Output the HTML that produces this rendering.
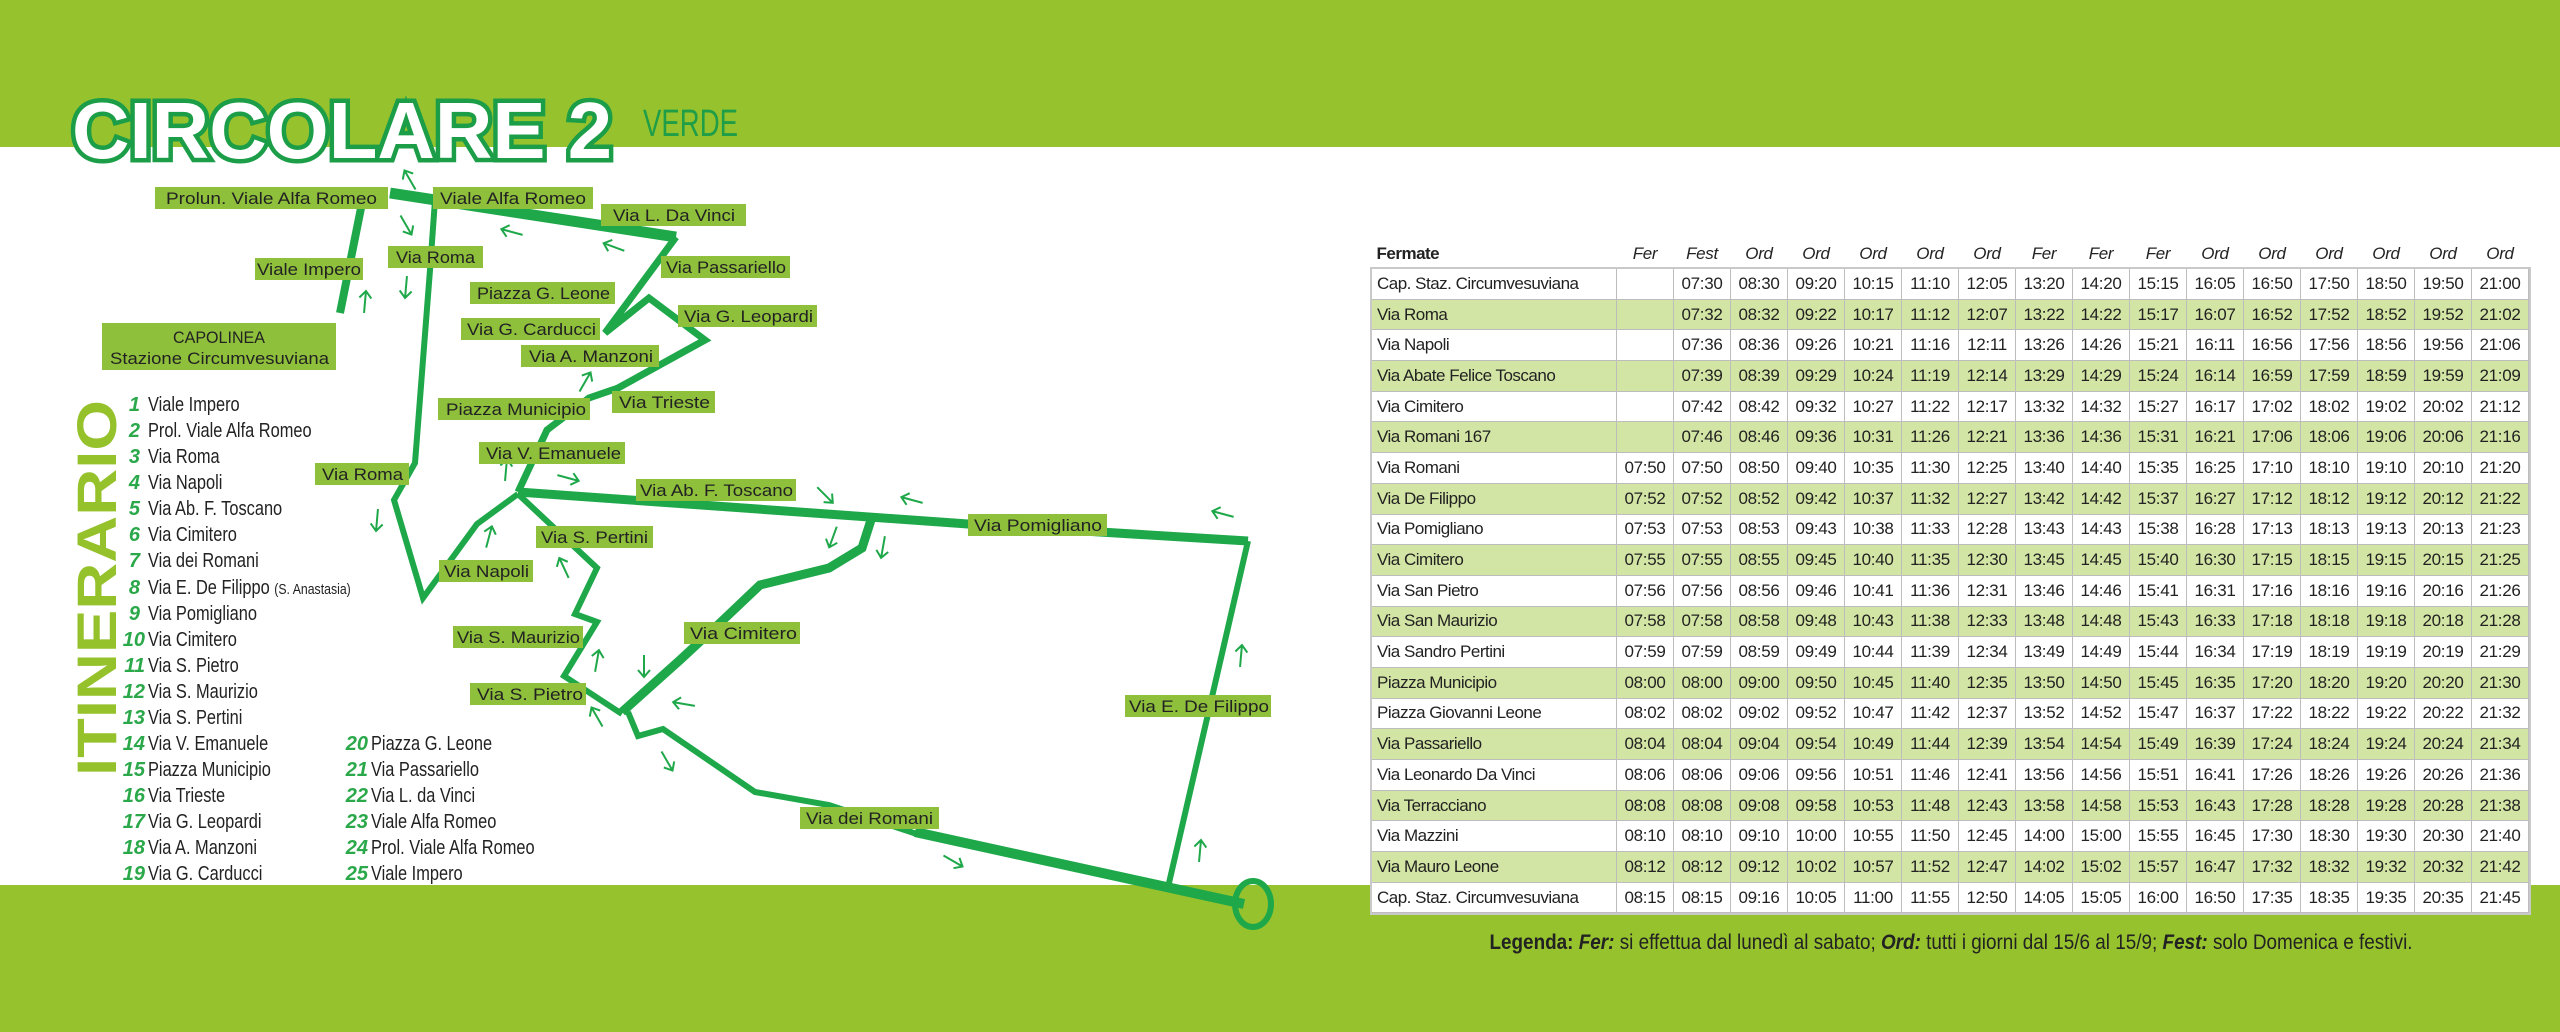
<!DOCTYPE html>
<html><head><meta charset="utf-8"><style>
body{margin:0;width:2560px;height:1032px;position:relative;overflow:hidden;background:#fff;font-family:"Liberation Sans",sans-serif}
svg{position:absolute;left:0;top:0}
table{position:absolute;left:1371px;top:240px;border-collapse:collapse;font-family:"Liberation Sans",sans-serif;font-size:17px;color:#222;table-layout:fixed}
td{border:1px solid #bdbdbd;height:29.7px;padding:0 1px;text-align:center;white-space:nowrap;overflow:hidden;letter-spacing:-0.3px}
td:first-child{text-align:left;padding-left:5px;letter-spacing:-0.5px}
tr.h td{border:none;height:28px;font-style:italic;font-size:17px;vertical-align:middle}
tr.h td:first-child{font-style:normal;font-weight:bold}
tr.g td{background:#d3e5a4}
tbody.b{outline:2px solid #c9c9c9}
.leg{position:absolute;left:1351px;top:931px;width:1200px;text-align:center;font-size:21px;color:#222;white-space:nowrap;transform:scaleX(0.9);transform-origin:center}
</style></head><body>
<svg width="2560" height="1032" viewBox="0 0 2560 1032">
<defs>
<g id="ar"><path d="M-11,0 L11,0 M4,-6 L11,0 L4,6" fill="none" stroke="#1ea84a" stroke-width="2"/></g>
</defs>
<rect x="0" y="0" width="2560" height="147" fill="#96c22e"/>
<rect x="0" y="885" width="2560" height="147" fill="#96c22e"/>
<text x="72" y="158" font-family="Liberation Sans, sans-serif" font-weight="bold" font-size="80" fill="#fff" stroke="#1b9e47" stroke-width="9" paint-order="stroke" textLength="540" lengthAdjust="spacingAndGlyphs">CIRCOLARE 2</text>
<text x="643" y="136" font-family="Liberation Sans, sans-serif" font-size="38" fill="#1f9e47" textLength="95" lengthAdjust="spacingAndGlyphs">VERDE</text>
<text transform="translate(116,776) rotate(-90)" font-family="Liberation Sans, sans-serif" font-weight="bold" font-size="56" fill="#95c12b" textLength="376" lengthAdjust="spacingAndGlyphs">ITINERARIO</text>
<g font-family="Liberation Sans, sans-serif" font-size="20" fill="#222">
<g font-weight="bold" font-style="italic" fill="#2aa84a" text-anchor="end">
<text x="140" y="411">1</text><text x="140" y="437">2</text><text x="140" y="463">3</text><text x="140" y="489">4</text><text x="140" y="515">5</text><text x="140" y="541">6</text><text x="140" y="567">7</text><text x="140" y="594">8</text><text x="140" y="620">9</text><text x="145" y="646">10</text><text x="145" y="672">11</text><text x="145" y="698">12</text><text x="145" y="724">13</text><text x="145" y="750">14</text><text x="145" y="776">15</text><text x="145" y="802">16</text><text x="145" y="828">17</text><text x="145" y="854">18</text><text x="145" y="880">19</text>
<text x="368" y="750">20</text><text x="368" y="776">21</text><text x="368" y="802">22</text><text x="368" y="828">23</text><text x="368" y="854">24</text><text x="368" y="880">25</text>
</g>
<g transform="translate(148,0) scale(0.82,1)">
<text x="0" y="411">Viale Impero</text><text x="0" y="437">Prol. Viale Alfa Romeo</text><text x="0" y="463">Via Roma</text><text x="0" y="489">Via Napoli</text><text x="0" y="515">Via Ab. F. Toscano</text><text x="0" y="541">Via Cimitero</text><text x="0" y="567">Via dei Romani</text><text x="0" y="594">Via E. De Filippo <tspan font-size="15">(S. Anastasia)</tspan></text><text x="0" y="620">Via Pomigliano</text><text x="0" y="646">Via Cimitero</text><text x="0" y="672">Via S. Pietro</text><text x="0" y="698">Via S. Maurizio</text><text x="0" y="724">Via S. Pertini</text><text x="0" y="750">Via V. Emanuele</text><text x="0" y="776">Piazza Municipio</text><text x="0" y="802">Via Trieste</text><text x="0" y="828">Via G. Leopardi</text><text x="0" y="854">Via A. Manzoni</text><text x="0" y="880">Via G. Carducci</text>
</g>
<g transform="translate(371,0) scale(0.82,1)">
<text x="0" y="750">Piazza G. Leone</text><text x="0" y="776">Via Passariello</text><text x="0" y="802">Via L. da Vinci</text><text x="0" y="828">Viale Alfa Romeo</text><text x="0" y="854">Prol. Viale Alfa Romeo</text><text x="0" y="880">Viale Impero</text>
</g>
</g>
<g fill="none" stroke="#1ea84a" stroke-linejoin="miter" stroke-linecap="butt">
<path d="M390,193 L676,237" stroke-width="11"/>
<path d="M676,237 L605,333 L649,298 L705,340 L618,388 L589,398 L547,430 L518,492" stroke-width="7"/>
<path d="M361,208 L340,313" stroke-width="8"/>
<path d="M435,200 L430,270 L415,463 L394,500 L423,598 L477,524 L518,494" stroke-width="6"/>
<path d="M518,494 L597,568 L575,614 L597,622 L564,676 L622,714" stroke-width="6"/>
<path d="M622,712 L680,660 L721,622 L760,585 L829,568 L862,548 L871,520" stroke-width="9"/>
<path d="M518,492 L968,524 L1248,541" stroke-width="9"/>
<path d="M1248,541 L1169,883" stroke-width="6"/>
<path d="M628,712 L638,736 L663,729 L755,792 L829,805 L920,835" stroke-width="6"/>
<path d="M915,832 L1244,904" stroke-width="10"/>
<ellipse cx="1253" cy="904" rx="18" ry="23" stroke-width="6"/>
</g>
<g>
<use href="#ar" transform="translate(410,180) rotate(-120)"/>
<use href="#ar" transform="translate(406,225) rotate(60)"/>
<use href="#ar" transform="translate(512,232) rotate(195)"/>
<use href="#ar" transform="translate(614,247) rotate(200)"/>
<use href="#ar" transform="translate(406,287) rotate(95)"/>
<use href="#ar" transform="translate(365,302) rotate(-85)"/>
<use href="#ar" transform="translate(585,382) rotate(-60)"/>
<use href="#ar" transform="translate(506,470) rotate(-85)"/>
<use href="#ar" transform="translate(568,478) rotate(15)"/>
<use href="#ar" transform="translate(825,495) rotate(45)"/>
<use href="#ar" transform="translate(912,500) rotate(195)"/>
<use href="#ar" transform="translate(1223,514) rotate(195)"/>
<use href="#ar" transform="translate(377,520) rotate(95)"/>
<use href="#ar" transform="translate(489,537) rotate(-75)"/>
<use href="#ar" transform="translate(564,568) rotate(-115)"/>
<use href="#ar" transform="translate(833,537) rotate(110)"/>
<use href="#ar" transform="translate(883,547) rotate(100)"/>
<use href="#ar" transform="translate(597,661) rotate(-80)"/>
<use href="#ar" transform="translate(644,666) rotate(90)"/>
<use href="#ar" transform="translate(684,704) rotate(190)"/>
<use href="#ar" transform="translate(597,717) rotate(-120)"/>
<use href="#ar" transform="translate(667,761) rotate(60)"/>
<use href="#ar" transform="translate(953,861) rotate(30)"/>
<use href="#ar" transform="translate(1241,656) rotate(-85)"/>
<use href="#ar" transform="translate(1200,851) rotate(-85)"/>
</g>
<g font-family="Liberation Sans, sans-serif" font-size="17" fill="#222">
<g fill="#8fc03c">
<rect x="155" y="187" width="233" height="22"/><rect x="433" y="187" width="160" height="22"/><rect x="601" y="204" width="145" height="22"/><rect x="661" y="256" width="129" height="22"/><rect x="255" y="258" width="108" height="22"/><rect x="388" y="246" width="95" height="22"/><rect x="470" y="282" width="145" height="22"/><rect x="678" y="305" width="139" height="22"/><rect x="461" y="318" width="139" height="22"/><rect x="521" y="345" width="138" height="22"/><rect x="102" y="323" width="234" height="47"/><rect x="438" y="398" width="152" height="22"/><rect x="612" y="391" width="103" height="22"/><rect x="479" y="442" width="146" height="22"/><rect x="315" y="463" width="94" height="22"/><rect x="636" y="479" width="160" height="22"/><rect x="968" y="514" width="139" height="22"/><rect x="536" y="526" width="117" height="22"/><rect x="439" y="560" width="94" height="22"/><rect x="453" y="626" width="130" height="22"/><rect x="684" y="622" width="116" height="22"/><rect x="470" y="683" width="116" height="22"/><rect x="1125" y="695" width="146" height="22"/><rect x="800" y="807" width="139" height="22"/>
</g>
<text x="166" y="204" textLength="211" lengthAdjust="spacingAndGlyphs">Prolun. Viale Alfa Romeo</text>
<text x="440" y="204" textLength="146" lengthAdjust="spacingAndGlyphs">Viale Alfa Romeo</text>
<text x="613" y="221" textLength="122" lengthAdjust="spacingAndGlyphs">Via L. Da Vinci</text>
<text x="666" y="273" textLength="120" lengthAdjust="spacingAndGlyphs">Via Passariello</text>
<text x="257" y="275" textLength="104" lengthAdjust="spacingAndGlyphs">Viale Impero</text>
<text x="396" y="263" textLength="79" lengthAdjust="spacingAndGlyphs">Via Roma</text>
<text x="477" y="299" textLength="133" lengthAdjust="spacingAndGlyphs">Piazza G. Leone</text>
<text x="684" y="322" textLength="129" lengthAdjust="spacingAndGlyphs">Via G. Leopardi</text>
<text x="467" y="335" textLength="129" lengthAdjust="spacingAndGlyphs">Via G. Carducci</text>
<text x="529" y="362" textLength="124" lengthAdjust="spacingAndGlyphs">Via A. Manzoni</text>
<text x="219" y="343" text-anchor="middle" textLength="92" lengthAdjust="spacingAndGlyphs">CAPOLINEA</text>
<text x="110" y="364" textLength="219" lengthAdjust="spacingAndGlyphs">Stazione Circumvesuviana</text>
<text x="446" y="415" textLength="140" lengthAdjust="spacingAndGlyphs">Piazza Municipio</text>
<text x="619" y="408" textLength="91" lengthAdjust="spacingAndGlyphs">Via Trieste</text>
<text x="486" y="459" textLength="135" lengthAdjust="spacingAndGlyphs">Via V. Emanuele</text>
<text x="322" y="480" textLength="81" lengthAdjust="spacingAndGlyphs">Via Roma</text>
<text x="640" y="496" textLength="153" lengthAdjust="spacingAndGlyphs">Via Ab. F. Toscano</text>
<text x="974" y="531" textLength="128" lengthAdjust="spacingAndGlyphs">Via Pomigliano</text>
<text x="541" y="543" textLength="107" lengthAdjust="spacingAndGlyphs">Via S. Pertini</text>
<text x="444" y="577" textLength="85" lengthAdjust="spacingAndGlyphs">Via Napoli</text>
<text x="457" y="643" textLength="123" lengthAdjust="spacingAndGlyphs">Via S. Maurizio</text>
<text x="690" y="639" textLength="107" lengthAdjust="spacingAndGlyphs">Via Cimitero</text>
<text x="477" y="700" textLength="106" lengthAdjust="spacingAndGlyphs">Via S. Pietro</text>
<text x="1129" y="712" textLength="140" lengthAdjust="spacingAndGlyphs">Via E. De Filippo</text>
<text x="806" y="824" textLength="127" lengthAdjust="spacingAndGlyphs">Via dei Romani</text>
</g>
</svg>
<table>
<colgroup><col style="width:245px"><col span="16" style="width:57px"></colgroup>
<tr class="h"><td>Fermate</td><td>Fer</td><td>Fest</td><td>Ord</td><td>Ord</td><td>Ord</td><td>Ord</td><td>Ord</td><td>Fer</td><td>Fer</td><td>Fer</td><td>Ord</td><td>Ord</td><td>Ord</td><td>Ord</td><td>Ord</td><td>Ord</td></tr>
<tbody class="b">
<tr><td>Cap. Staz. Circumvesuviana</td><td></td><td>07:30</td><td>08:30</td><td>09:20</td><td>10:15</td><td>11:10</td><td>12:05</td><td>13:20</td><td>14:20</td><td>15:15</td><td>16:05</td><td>16:50</td><td>17:50</td><td>18:50</td><td>19:50</td><td>21:00</td></tr>
<tr class="g"><td>Via Roma</td><td></td><td>07:32</td><td>08:32</td><td>09:22</td><td>10:17</td><td>11:12</td><td>12:07</td><td>13:22</td><td>14:22</td><td>15:17</td><td>16:07</td><td>16:52</td><td>17:52</td><td>18:52</td><td>19:52</td><td>21:02</td></tr>
<tr><td>Via Napoli</td><td></td><td>07:36</td><td>08:36</td><td>09:26</td><td>10:21</td><td>11:16</td><td>12:11</td><td>13:26</td><td>14:26</td><td>15:21</td><td>16:11</td><td>16:56</td><td>17:56</td><td>18:56</td><td>19:56</td><td>21:06</td></tr>
<tr class="g"><td>Via Abate Felice Toscano</td><td></td><td>07:39</td><td>08:39</td><td>09:29</td><td>10:24</td><td>11:19</td><td>12:14</td><td>13:29</td><td>14:29</td><td>15:24</td><td>16:14</td><td>16:59</td><td>17:59</td><td>18:59</td><td>19:59</td><td>21:09</td></tr>
<tr><td>Via Cimitero</td><td></td><td>07:42</td><td>08:42</td><td>09:32</td><td>10:27</td><td>11:22</td><td>12:17</td><td>13:32</td><td>14:32</td><td>15:27</td><td>16:17</td><td>17:02</td><td>18:02</td><td>19:02</td><td>20:02</td><td>21:12</td></tr>
<tr class="g"><td>Via Romani 167</td><td></td><td>07:46</td><td>08:46</td><td>09:36</td><td>10:31</td><td>11:26</td><td>12:21</td><td>13:36</td><td>14:36</td><td>15:31</td><td>16:21</td><td>17:06</td><td>18:06</td><td>19:06</td><td>20:06</td><td>21:16</td></tr>
<tr><td>Via Romani</td><td>07:50</td><td>07:50</td><td>08:50</td><td>09:40</td><td>10:35</td><td>11:30</td><td>12:25</td><td>13:40</td><td>14:40</td><td>15:35</td><td>16:25</td><td>17:10</td><td>18:10</td><td>19:10</td><td>20:10</td><td>21:20</td></tr>
<tr class="g"><td>Via De Filippo</td><td>07:52</td><td>07:52</td><td>08:52</td><td>09:42</td><td>10:37</td><td>11:32</td><td>12:27</td><td>13:42</td><td>14:42</td><td>15:37</td><td>16:27</td><td>17:12</td><td>18:12</td><td>19:12</td><td>20:12</td><td>21:22</td></tr>
<tr><td>Via Pomigliano</td><td>07:53</td><td>07:53</td><td>08:53</td><td>09:43</td><td>10:38</td><td>11:33</td><td>12:28</td><td>13:43</td><td>14:43</td><td>15:38</td><td>16:28</td><td>17:13</td><td>18:13</td><td>19:13</td><td>20:13</td><td>21:23</td></tr>
<tr class="g"><td>Via Cimitero</td><td>07:55</td><td>07:55</td><td>08:55</td><td>09:45</td><td>10:40</td><td>11:35</td><td>12:30</td><td>13:45</td><td>14:45</td><td>15:40</td><td>16:30</td><td>17:15</td><td>18:15</td><td>19:15</td><td>20:15</td><td>21:25</td></tr>
<tr><td>Via San Pietro</td><td>07:56</td><td>07:56</td><td>08:56</td><td>09:46</td><td>10:41</td><td>11:36</td><td>12:31</td><td>13:46</td><td>14:46</td><td>15:41</td><td>16:31</td><td>17:16</td><td>18:16</td><td>19:16</td><td>20:16</td><td>21:26</td></tr>
<tr class="g"><td>Via San Maurizio</td><td>07:58</td><td>07:58</td><td>08:58</td><td>09:48</td><td>10:43</td><td>11:38</td><td>12:33</td><td>13:48</td><td>14:48</td><td>15:43</td><td>16:33</td><td>17:18</td><td>18:18</td><td>19:18</td><td>20:18</td><td>21:28</td></tr>
<tr><td>Via Sandro Pertini</td><td>07:59</td><td>07:59</td><td>08:59</td><td>09:49</td><td>10:44</td><td>11:39</td><td>12:34</td><td>13:49</td><td>14:49</td><td>15:44</td><td>16:34</td><td>17:19</td><td>18:19</td><td>19:19</td><td>20:19</td><td>21:29</td></tr>
<tr class="g"><td>Piazza Municipio</td><td>08:00</td><td>08:00</td><td>09:00</td><td>09:50</td><td>10:45</td><td>11:40</td><td>12:35</td><td>13:50</td><td>14:50</td><td>15:45</td><td>16:35</td><td>17:20</td><td>18:20</td><td>19:20</td><td>20:20</td><td>21:30</td></tr>
<tr><td>Piazza Giovanni Leone</td><td>08:02</td><td>08:02</td><td>09:02</td><td>09:52</td><td>10:47</td><td>11:42</td><td>12:37</td><td>13:52</td><td>14:52</td><td>15:47</td><td>16:37</td><td>17:22</td><td>18:22</td><td>19:22</td><td>20:22</td><td>21:32</td></tr>
<tr class="g"><td>Via Passariello</td><td>08:04</td><td>08:04</td><td>09:04</td><td>09:54</td><td>10:49</td><td>11:44</td><td>12:39</td><td>13:54</td><td>14:54</td><td>15:49</td><td>16:39</td><td>17:24</td><td>18:24</td><td>19:24</td><td>20:24</td><td>21:34</td></tr>
<tr><td>Via Leonardo Da Vinci</td><td>08:06</td><td>08:06</td><td>09:06</td><td>09:56</td><td>10:51</td><td>11:46</td><td>12:41</td><td>13:56</td><td>14:56</td><td>15:51</td><td>16:41</td><td>17:26</td><td>18:26</td><td>19:26</td><td>20:26</td><td>21:36</td></tr>
<tr class="g"><td>Via Terracciano</td><td>08:08</td><td>08:08</td><td>09:08</td><td>09:58</td><td>10:53</td><td>11:48</td><td>12:43</td><td>13:58</td><td>14:58</td><td>15:53</td><td>16:43</td><td>17:28</td><td>18:28</td><td>19:28</td><td>20:28</td><td>21:38</td></tr>
<tr><td>Via Mazzini</td><td>08:10</td><td>08:10</td><td>09:10</td><td>10:00</td><td>10:55</td><td>11:50</td><td>12:45</td><td>14:00</td><td>15:00</td><td>15:55</td><td>16:45</td><td>17:30</td><td>18:30</td><td>19:30</td><td>20:30</td><td>21:40</td></tr>
<tr class="g"><td>Via Mauro Leone</td><td>08:12</td><td>08:12</td><td>09:12</td><td>10:02</td><td>10:57</td><td>11:52</td><td>12:47</td><td>14:02</td><td>15:02</td><td>15:57</td><td>16:47</td><td>17:32</td><td>18:32</td><td>19:32</td><td>20:32</td><td>21:42</td></tr>
<tr style="background:#fff"><td>Cap. Staz. Circumvesuviana</td><td>08:15</td><td>08:15</td><td>09:16</td><td>10:05</td><td>11:00</td><td>11:55</td><td>12:50</td><td>14:05</td><td>15:05</td><td>16:00</td><td>16:50</td><td>17:35</td><td>18:35</td><td>19:35</td><td>20:35</td><td>21:45</td></tr>
</tbody>
</table>
<div class="leg"><b>Legenda: <i>Fer:</i></b> si effettua dal lunedì al sabato; <b><i>Ord:</i></b> tutti i giorni dal 15/6 al 15/9; <b><i>Fest:</i></b> solo Domenica e festivi.</div>
</body></html>
